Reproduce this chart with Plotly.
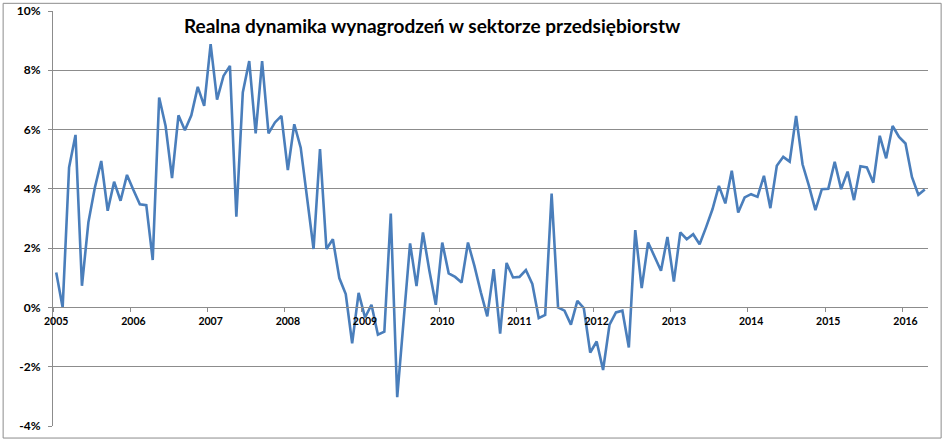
import plotly.graph_objects as go

# Monthly real wage growth, y/y %, Jan 2005 - Apr 2016
years = ["2005", "2006", "2007", "2008", "2009", "2010",
         "2011", "2012", "2013", "2014", "2015", "2016"]
y_ticks = [-4, -2, 0, 2, 4, 6, 8, 10]
y_labels = ["-4%", "-2%", "0%", "2%", "4%", "6%", "8%", "10%"]

wages_2005 = [1.18, 0.0, 4.72, 5.82, 0.73, 2.87, 4.04, 4.94, 3.26, 4.24, 3.60, 4.47]
wages_2006 = [3.96, 3.48, 3.45, 1.60, 7.08, 6.12, 4.36, 6.48, 5.98, 6.48, 7.44, 6.80]
wages_2007 = [8.88, 7.01, 7.81, 8.15, 3.06, 7.25, 8.31, 5.87, 8.31, 5.87, 6.24, 6.46]
wages_2008 = [4.63, 6.18, 5.39, 3.60, 1.97, 5.34, 1.97, 2.30, 0.99, 0.45, -1.21, 0.49]
wages_2009 = [-0.34, 0.09, -0.92, -0.82, 3.17, -3.03, -0.40, 2.16, 0.72, 2.53, 1.24, 0.09]
wages_2010 = [2.19, 1.15, 1.03, 0.84, 2.19, 1.40, 0.51, -0.30, 1.29, -0.88, 1.50, 1.01]
wages_2011 = [1.03, 1.26, 0.79, -0.36, -0.25, 3.84, 0.0, -0.11, -0.58, 0.22, -0.02, -1.52]
wages_2012 = [-1.15, -2.11, -0.58, -0.17, -0.11, -1.35, 2.61, 0.65, 2.19, 1.71, 1.24, 2.38]
wages_2013 = [0.87, 2.53, 2.30, 2.47, 2.13, 2.70, 3.31, 4.10, 3.51, 4.61, 3.20, 3.71]
wages_2014 = [3.82, 3.73, 4.44, 3.35, 4.78, 5.08, 4.92, 6.46, 4.83, 4.10, 3.28, 3.99]
wages_2015 = [4.00, 4.91, 3.99, 4.58, 3.62, 4.76, 4.72, 4.21, 5.79, 5.03, 6.12, 5.75]
wages_2016 = [5.53, 4.40, 3.80, 3.98]

wages = (wages_2005 + wages_2006 + wages_2007 + wages_2008 + wages_2009 + wages_2010
         + wages_2011 + wages_2012 + wages_2013 + wages_2014 + wages_2015 + wages_2016)

months = list(range(len(wages)))
grey = "#8c8c8c"

fig = go.Figure()
fig.add_trace(go.Scatter(x=months, y=wages, mode="lines",
                         line=dict(color="#4a7ebb", width=2.6),
                         showlegend=False, hoverinfo="skip"))

# x axis sits on the 0% line, year labels on January of each year
fig.update_xaxes(range=[-0.5, len(wages) - 0.5], anchor="free", position=4 / 14,
                 automargin=False, showgrid=False, zeroline=False,
                 showline=True, linecolor=grey, linewidth=1,
                 tickvals=[12 * i for i in range(len(years))], ticktext=years,
                 ticks="outside", ticklen=4, tickcolor="rgba(0,0,0,0)",
                 minor=dict(tickvals=[12 * i - 0.5 for i in range(len(years) + 1)],
                            ticks="outside", ticklen=4, tickcolor=grey, showgrid=False),
                 tickfont=dict(family="Lato", size=10.5, color="black", weight="bold"))

fig.update_yaxes(range=[-4, 10], tickvals=y_ticks, ticktext=y_labels,
                 automargin=False, showgrid=True, gridcolor=grey, gridwidth=1,
                 zeroline=False, showline=True, linecolor=grey, linewidth=1,
                 ticks="outside", ticklen=4, tickcolor=grey, ticklabelstandoff=5,
                 tickfont=dict(family="Lato", size=12, color="black", weight="bold"))

# Title inside the plot area
fig.add_annotation(text="Realna dynamika wynagrodzeń w sektorze przedsiębiorstw",
                   xref="paper", yref="paper", x=0.434, y=0.9655,
                   xanchor="center", yanchor="middle", showarrow=False,
                   font=dict(family="Lato", size=19, color="black", weight="bold"))

# Chart frame
fig.add_shape(type="rect", xref="paper", yref="paper",
              x0=-0.057, x1=1.015, y0=-0.029, y1=1.0185,
              line=dict(color=grey, width=1), layer="below")

fig.update_layout(width=945, height=442,
                  margin=dict(l=53, r=17, t=11, b=16, autoexpand=False),
                  paper_bgcolor="white", plot_bgcolor="white")

fig.write_html("out.html", config={"displayModeBar": False},
               post_script="document.body.style.margin='0px';")
